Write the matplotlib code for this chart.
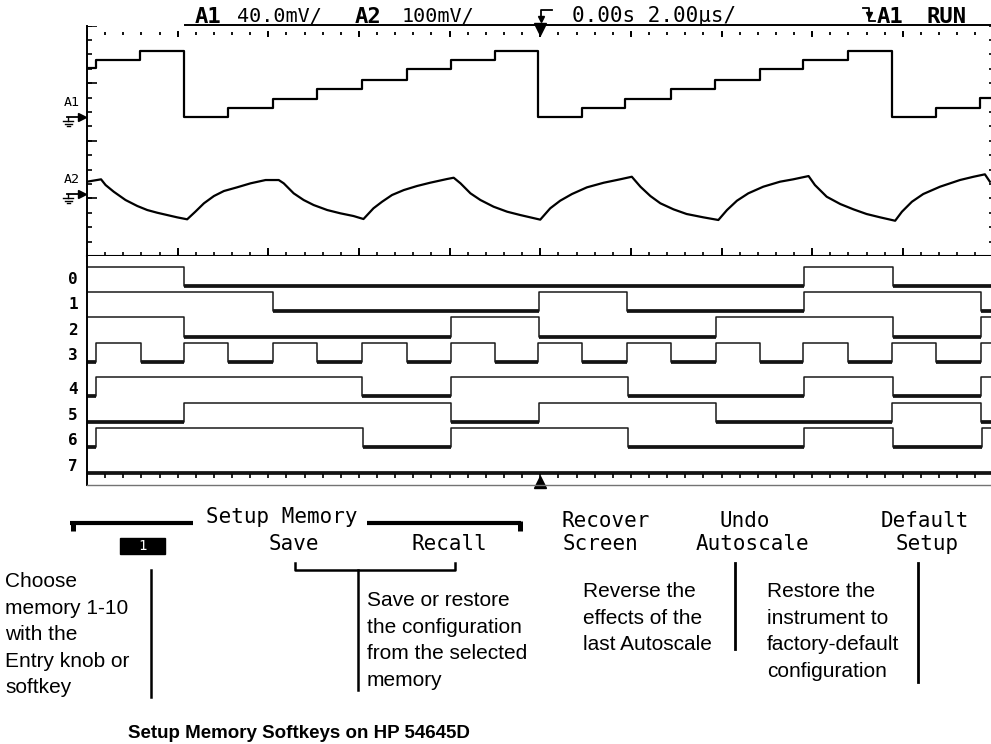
import numpy as np
import matplotlib.pyplot as plt
import matplotlib.transforms as mtransforms
from matplotlib.patches import Rectangle

plt.rcParams["font.family"] = ["DejaVu Sans Mono"]

W, H = 991, 744

# ---- analog channel A1 (40 mV/div): step times in us, level after each step in mV
a1_edges_us = [-9.81, -8.84, -7.85, -6.88, -5.90, -4.92, -3.93, -2.95, -1.98, -1.00,
               -0.04, 0.93, 1.88, 2.89, 3.86, 4.85, 5.80, 6.79, 7.76, 8.73, 9.70]
a1_levels_mv = [34.0, 39.6, 45.8, 0.0, 6.6, 12.8, 19.4, 26.0, 33.0, 39.6, 45.8,
                0.0, 6.6, 12.8, 19.4, 26.0, 33.0, 39.6, 45.8, 0.0, 6.6, 13.3]

# ---- analog channel A2 (100 mV/div): points
a2_time_us = [-10.0, -9.69, -9.59, -9.41, -9.15, -8.89, -8.67, -8.45, -8.23, -8.01, -7.79,
              -7.61, -7.42, -7.20, -6.98, -6.69, -6.39, -6.06, -5.77,
              -5.66, -5.44, -5.22, -5.00, -4.70, -4.41, -4.12, -3.90,
              -3.68, -3.49, -3.27, -3.01, -2.72, -2.43, -2.06, -1.91,
              -1.76, -1.54, -1.32, -1.03, -0.73, -0.44, 0.00,
              0.22, 0.44, 0.70, 1.03, 1.40, 1.76, 2.02,
              2.21, 2.43, 2.65, 2.94, 3.23, 3.60, 3.93,
              4.12, 4.34, 4.59, 4.92, 5.29, 5.58, 5.92,
              6.06, 6.32, 6.62, 6.91, 7.20, 7.50, 7.83,
              7.98, 8.20, 8.45, 8.82, 9.26, 9.56, 9.81, 9.92]
a2_mv = [21.4, 25.5, 15.6, 4.0, -10.4, -20.8, -27.8, -32.5, -36.5, -40.5, -43.9,
         -30.7, -16.1, -3.5, 5.2, 11.6, 18.6, 24.3, 24.3,
         18.6, 1.2, -10.4, -19.1, -27.8, -33.5, -38.2, -43.4,
         -24.8, -13.4, -1.7, 6.9, 13.9, 19.6, 26.0, 28.3,
         18.6, 1.2, -10.4, -22.0, -30.7, -36.5, -44.5,
         -24.8, -11.6, 0.0, 11.6, 19.6, 25.5, 30.0,
         12.7, -3.5, -16.1, -26.6, -34.7, -40.5, -45.1,
         -27.8, -11.6, 1.2, 12.7, 21.4, 25.5, 31.2,
         15.6, -4.7, -17.4, -26.6, -34.7, -40.5, -46.4,
         -30.7, -13.4, 0.0, 12.7, 24.3, 30.0, 34.2, 21.4]

# ---- digital channels 0-7: state at left edge and toggle times in us
dig_names = ["0", "1", "2", "3", "4", "5", "6", "7"]
dig_start = [1, 1, 1, 0, 0, 0, 0, 0]
dig_edges_us = [
    [-7.85, 5.81, 7.78],
    [-5.90, -0.03, 1.92, 5.81, 9.72],
    [-7.85, -1.98, -0.03, 3.88, 7.78, 9.72],
    [-9.80, -8.80, -7.87, -6.88, -5.89, -4.92, -3.93, -2.93, -1.98, -0.99, -0.04,
     0.93, 1.92, 2.89, 3.88, 4.85, 5.80, 6.79, 7.76, 8.73, 9.72],
    [-9.80, -3.93, -1.98, 1.94, 5.81, 7.78, 9.72],
    [-7.85, -1.98, -0.03, 3.88, 7.76, 9.72],
    [-9.80, -3.91, -1.98, 1.94, 5.83, 7.78, 9.74],
    [],
]

# ---- softkey row and notes
softkeys_top = [("Recover", 606), ("Undo", 745), ("Default", 925)]
softkeys_bot = [("Screen", 600), ("Autoscale", 752), ("Setup", 927)]
notes = [
    (5, ["Choose", "memory 1-10", "with the", "Entry knob or", "softkey"]),
    (367, ["Save or restore", "the configuration", "from the selected", "memory"]),
    (583, ["Reverse the", "effects of the", "last Autoscale"]),
    (767, ["Restore the", "instrument to", "factory-default", "configuration"]),
]
caption = "Setup Memory Softkeys on HP 54645D"


def box(x0, y0, x1, y1):
    return [x0 / W, 1 - y1 / H, (x1 - x0) / W, (y1 - y0) / H]


fig = plt.figure(figsize=(W / 100, H / 100), dpi=100)
SL, SR = 87, 993.5
ana = fig.add_axes(box(SL, 25.6, SR, 256))
dig = fig.add_axes(box(SL, 256, SR, 485))
ov = fig.add_axes([0, 0, 1, 1])
ov.set_xlim(0, W)
ov.set_ylim(H, 0)
ov.axis("off")

ana_h, dig_h, scr_w = 256 - 25.6, 485 - 256, SR - SL
for ax in (ana, dig):
    ax.set_xlim(-10, 10)
    ax.set_xticks([])
    ax.set_yticks([])
    for s in ("top", "right"):
        ax.spines[s].set_visible(False)
    ax.spines["left"].set_linewidth(1.4)
ana.set_ylim(-2, 2)
ana.spines["bottom"].set_linewidth(1.5)
dig.set_ylim(dig_h / 25.4, 0)
dig.spines["bottom"].set_linewidth(1.0)
dig.spines["bottom"].set_color("0.45")

# graticule
minor_t = np.arange(-10, 10.001, 0.4)
major_t = np.arange(-10, 10.001, 2.0)
ta = mtransforms.blended_transform_factory(ana.transData, ana.transAxes)
ana.vlines(minor_t, 1 - 9.5 / ana_h, 1 - 6.5 / ana_h, transform=ta, lw=1.3, color="black")
ana.vlines(major_t, 1 - 11.5 / ana_h, 1 - 5 / ana_h, transform=ta, lw=1.4, color="black")
ana.vlines(minor_t, -4.5 / ana_h, 4.5 / ana_h, transform=ta, lw=1.2, color="black", clip_on=False)
ana.vlines(major_t, -8 / ana_h, 8 / ana_h, transform=ta, lw=1.4, color="black", clip_on=False)
ya = mtransforms.blended_transform_factory(ana.transAxes, ana.transData)
v_minor = np.arange(-2, 2.001, 0.25)
v_major = np.arange(-2, 2.001, 1.0)
ana.hlines(v_minor, 0, 5 / scr_w, transform=ya, lw=1.2, color="black")
ana.hlines(v_major, 0, 10 / scr_w, transform=ya, lw=1.2, color="black")
ana.hlines(v_minor, 1 - 5 / scr_w, 1, transform=ya, lw=1.2, color="black")
td = mtransforms.blended_transform_factory(dig.transData, dig.transAxes)
dig.vlines(minor_t, (485 - 478) / dig_h, (485 - 473) / dig_h, transform=td, lw=1.2, color="black")
ana.plot([0], [1 - 3 / ana_h], marker="v", ms=8, color="black", transform=ta, clip_on=False)
dig.plot([0], [3 / dig_h], marker="^", ms=8, color="black", transform=td, clip_on=False)

# analog traces
A1_OFF, A2_OFF = 0.413, -0.924
a1_t = [-10] + a1_edges_us + [10]
a1_y = [v / 40 + A1_OFF for v in a1_levels_mv + a1_levels_mv[-1:]]
ana.step(a1_t, a1_y, where="post", color="black", lw=1.6)
ana.plot(a2_time_us, [v / 100 + A2_OFF for v in a2_mv], color="black", lw=1.6)

oy = mtransforms.blended_transform_factory(ov.transData, ana.transData)
for name, off in (("A1", A1_OFF), ("A2", A2_OFF)):
    ana.text(71.5, off + 0.25, name, transform=oy, ha="center", va="center",
             fontsize=9.5, clip_on=False)
    ana.plot([67, 80], [off, off], transform=oy, color="black", lw=1.3, clip_on=False)
    ana.plot([81.5], [off], marker=">", ms=6, transform=oy, color="black", clip_on=False)
    gy = 140.8 - off * 57.6
    for dx, dy in ((5, 4), (3.5, 6.5), (1.5, 9)):
        ov.plot([68 - dx, 68 + dx], [gy + dy, gy + dy], color="black", lw=1.0)
    ov.plot([68, 68], [gy, gy + 4], color="black", lw=1.0)

# digital traces
dy_tf = mtransforms.blended_transform_factory(ov.transData, dig.transData)
for k, name in enumerate(dig_names):
    hi = 0.421 + k + (0.354 if k >= 4 else 0.0)
    lo = hi + 0.75
    bounds = [-10] + dig_edges_us[k] + [10]
    state = dig_start[k]
    xs, ys = [], []
    for a, b in zip(bounds[:-1], bounds[1:]):
        y = hi if state else lo
        xs += [a, b]
        ys += [y, y]
        if not state:
            dig.hlines(y, a, b, lw=2.6, color="black")
        state = 1 - state
    dig.plot(xs, ys, color="0.1", lw=1.1)
    dig.text(73, (hi + lo) / 2 + 0.12, name, transform=dy_tf, ha="center", va="center",
             fontsize=11.5, fontweight="bold", clip_on=False)

# header line
ov.plot([185, W], [25, 25], color="black", lw=1.4)
ov.text(195, 23, "A1", fontsize=16, fontweight="bold")
ov.text(237, 21.5, "40.0mV/", fontsize=14.5)
ov.text(355, 23, "A2", fontsize=16, fontweight="bold")
ov.text(402, 21.5, "100mV/", fontsize=14.5)
ov.plot([552, 541, 541], [10, 10, 17], color="black", lw=1.3)
ov.plot([541], [19], marker="v", ms=5, color="black")
ov.text(572, 21.5, "0.00s 2.00µs/", fontsize=15)
ov.plot([863, 869, 869, 875], [8, 8, 21, 21], color="black", lw=1.3)
ov.plot([869], [15], marker="v", ms=5, color="black")
ov.text(877, 23, "A1", fontsize=16, fontweight="bold")
ov.text(927, 23, "RUN", fontsize=16, fontweight="bold")

# softkey bracket and labels
ov.plot([70, 193], [522.5, 522.5], color="black", lw=3, solid_capstyle="butt")
ov.plot([367, 521], [522.5, 522.5], color="black", lw=3, solid_capstyle="butt")
ov.plot([72.5, 72.5], [520.5, 531], color="black", lw=3.6, solid_capstyle="butt")
ov.plot([519.5, 519.5], [520.5, 531], color="black", lw=3.6, solid_capstyle="butt")
ov.text(281.5, 523, "Setup Memory", fontsize=15, ha="center")
ov.text(294, 550, "Save", fontsize=15, ha="center")
ov.text(449.5, 550, "Recall", fontsize=15, ha="center")
ov.add_patch(Rectangle((120, 538), 45, 16, color="black"))
ov.text(142.5, 546, "1", fontsize=10, color="white", ha="center", va="center")
for label, cx in softkeys_top:
    ov.text(cx, 527, label, fontsize=15, ha="center")
for label, cx in softkeys_bot:
    ov.text(cx, 550.5, label, fontsize=15, ha="center")

# callout lines
ov.plot([151, 151], [570, 697], color="black", lw=1.8)
ov.plot([295, 295, 455, 455], [563, 569.5, 569.5, 563], color="black", lw=1.8)
ov.plot([358, 358], [569.5, 690], color="black", lw=1.8)
ov.plot([735, 735], [563, 649], color="black", lw=2)
ov.plot([918, 918], [563, 682], color="black", lw=2)

# notes
base = {5: 587, 367: 606, 583: 597, 767: 597}
for x, lines in notes:
    for i, line in enumerate(lines):
        ov.text(x, base[x] + i * 26.6, line, fontsize=15, family="Liberation Sans")
ov.text(128, 738, caption, fontsize=13.5, fontweight="bold", family="Liberation Sans")

fig.savefig("out.png", dpi=100)
